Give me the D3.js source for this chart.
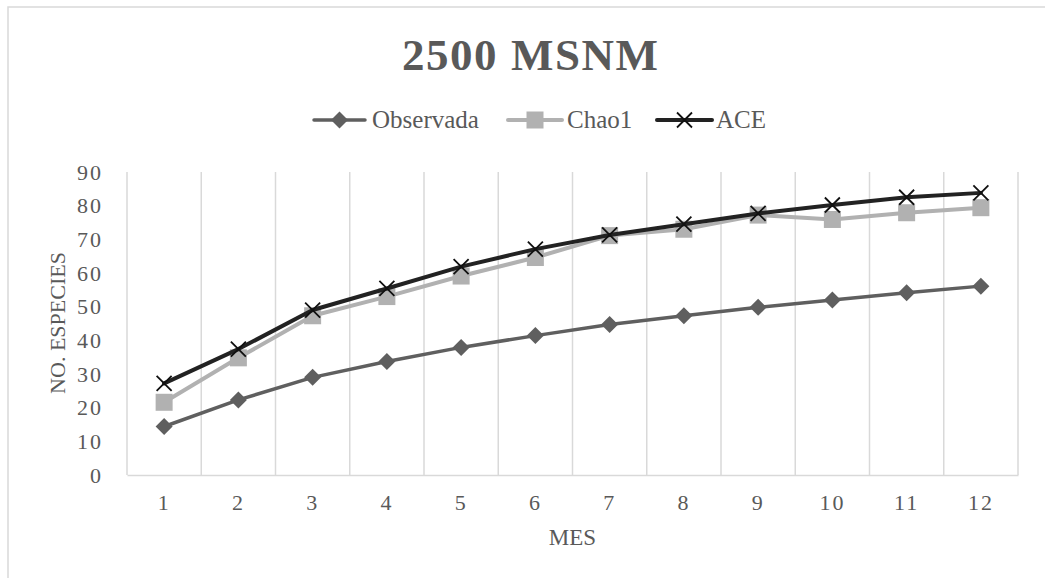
<!DOCTYPE html>
<html>
<head>
<meta charset="utf-8">
<script src="https://cdn.jsdelivr.net/npm/d3@7"></script>
<style>
  html, body { margin: 0; padding: 0; background: #fff; }
  svg text { font-family: "Liberation Serif", "Times New Roman", serif; fill: #595959; }
</style>
</head>
<body>
<svg id="chart" width="1045" height="578"></svg>
<script>
// Months sampled
const meses = [1, 2, 3, 4, 5, 6, 7, 8, 9, 10, 11, 12];
// Species richness per month (observed and estimators)
const observada = [14.4, 22.3, 29.0, 33.7, 37.9, 41.4, 44.7, 47.3, 49.8, 52.0, 54.1, 56.1];
const chao1     = [21.6, 34.8, 47.3, 53.0, 59.1, 64.6, 71.1, 73.0, 77.2, 75.9, 77.9, 79.4];
const ace       = [27.2, 37.4, 49.0, 55.4, 61.9, 67.1, 71.3, 74.5, 77.7, 80.2, 82.5, 83.8];
const yTicks    = [0, 10, 20, 30, 40, 50, 60, 70, 80, 90];

const series = [
  { name: "Observada", values: observada, color: "#5f5f5f", width: 3.5, marker: "diamond" },
  { name: "Chao1",     values: chao1,     color: "#b1b1b1", width: 4,   marker: "square" },
  { name: "ACE",       values: ace,       color: "#222222", width: 4,   marker: "cross" }
];

const svg = d3.select("#chart");
const plot = { left: 127, right: 1018, top: 172, bottom: 475 };

const x = d3.scaleBand().domain(meses).range([plot.left, plot.right]);
const cx = d => x(d) + x.bandwidth() / 2;
const y = d3.scaleLinear().domain([0, 90]).range([plot.bottom, plot.top]);

// Chart frame
svg.append("rect")
  .attr("x", 8).attr("y", 7).attr("width", 1100).attr("height", 700)
  .attr("fill", "none").attr("stroke", "#d9d9d9").attr("stroke-width", 1.5);

// Title
svg.append("text")
  .attr("x", 530).attr("y", 70)
  .attr("text-anchor", "middle")
  .attr("font-size", 45).attr("font-weight", "bold")
  .attr("textLength", 256).attr("lengthAdjust", "spacing")
  .text("2500 MSNM");

// Vertical gridlines at category boundaries
const bounds = meses.map(m => x(m)).concat([plot.right]);
svg.append("g").selectAll("line").data(bounds).join("line")
  .attr("x1", d => d).attr("x2", d => d)
  .attr("y1", plot.top).attr("y2", plot.bottom)
  .attr("stroke", "#d9d9d9").attr("stroke-width", 1.5);

// X axis
const xAxis = svg.append("g")
  .attr("transform", `translate(0,${plot.bottom})`)
  .call(d3.axisBottom(x).tickSize(0).tickPadding(19));
xAxis.select(".domain").attr("stroke", "#d9d9d9").attr("stroke-width", 1.5);
xAxis.selectAll("text").attr("font-size", 22).attr("fill", "#595959")
  .attr("letter-spacing", 2);

// Y axis
const yAxis = svg.append("g")
  .attr("transform", `translate(${plot.left},0)`)
  .call(d3.axisLeft(y).tickValues(yTicks).tickSize(0).tickPadding(24));
yAxis.select(".domain").remove();
yAxis.selectAll("text").attr("font-size", 22).attr("fill", "#595959")
  .attr("letter-spacing", 2);
svg.selectAll(".tick text").attr("font-family", null);

// Axis titles
svg.append("text")
  .attr("x", (plot.left + plot.right) / 2).attr("y", 545)
  .attr("text-anchor", "middle").attr("font-size", 23)
  .text("MES");
svg.append("text")
  .attr("transform", "translate(65,323) rotate(-90)")
  .attr("text-anchor", "middle").attr("font-size", 22)
  .text("NO. ESPECIES");

// Marker drawing
function drawMarker(g, type, color) {
  if (type === "diamond") {
    g.append("path").attr("d", "M0,-8.5L8.5,0L0,8.5L-8.5,0Z").attr("fill", color);
  } else if (type === "square") {
    g.append("rect").attr("x", -8.5).attr("y", -8.5).attr("width", 17).attr("height", 17).attr("fill", color);
  } else {
    g.append("path").attr("d", "M-7.5,-7.5L7.5,7.5M-7.5,7.5L7.5,-7.5")
      .attr("stroke", "#111").attr("stroke-width", 1.8).attr("fill", "none");
  }
}

const line = d3.line().x((d, i) => cx(meses[i])).y(d => y(d));

// Series lines and markers
series.forEach(s => {
  svg.append("path")
    .datum(s.values)
    .attr("d", line)
    .attr("fill", "none")
    .attr("stroke", s.color)
    .attr("stroke-width", s.width)
    .attr("stroke-linejoin", "round")
    .attr("stroke-linecap", "round");
  const mg = svg.append("g");
  s.values.forEach((v, i) => {
    const g = mg.append("g").attr("transform", `translate(${cx(meses[i])},${y(v)})`);
    drawMarker(g, s.marker, s.color);
  });
});

// Legend
const legendItems = [
  { s: series[0], x0: 314, x1: 365, tx: 372 },
  { s: series[1], x0: 508, x1: 562, tx: 567 },
  { s: series[2], x0: 657, x1: 712, tx: 716 }
];
const legY = 120;
legendItems.forEach(it => {
  const g = svg.append("g");
  g.append("line")
    .attr("x1", it.x0).attr("x2", it.x1).attr("y1", legY).attr("y2", legY)
    .attr("stroke", it.s.color).attr("stroke-width", it.s.width).attr("stroke-linecap", "round");
  const mg = g.append("g").attr("transform", `translate(${(it.x0 + it.x1) / 2},${legY})`);
  drawMarker(mg, it.s.marker, it.s.color);
  g.append("text")
    .attr("x", it.tx).attr("y", legY + 8)
    .attr("font-size", 25)
    .text(it.s.name);
});
</script>
</body>
</html>
